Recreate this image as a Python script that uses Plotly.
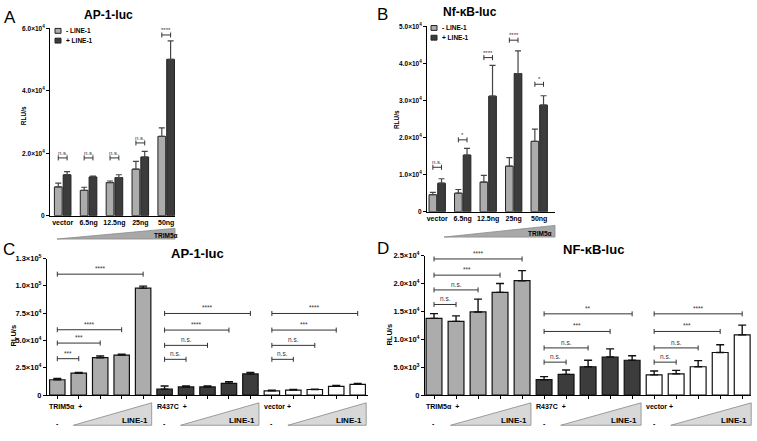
import plotly.graph_objects as go

W, H = 757, 441
FONT = "Liberation Sans"

# ---------------- data ----------------
ab_groups = ["vector", "6.5ng", "12.5ng", "25ng", "50ng"]

a_minus = [9200, 8100, 10600, 14900, 25400]
a_minus_err = [1200, 1000, 500, 2500, 2700]
a_plus = [13100, 12400, 12200, 18800, 50100]
a_plus_err = [1000, 300, 900, 1800, 5900]
a_sig = ["n.s.", "n.s.", "n.s.", "n.s.", "****"]
a_sig_y = [18500, 18500, 18500, 23300, 57900]

b_minus = [4600, 5000, 8000, 12300, 19000]
b_minus_err = [600, 1000, 1800, 2300, 3300]
b_plus = [7700, 15300, 31200, 37300, 28800]
b_plus_err = [1200, 1800, 8300, 6100, 2500]
b_sig = ["n.s.", "*", "****", "****", "*"]
b_sig_y = [12000, 19400, 41600, 46300, 34400]

cd_constructs = ["TRIM5α", "R437C", "vector"]

c_trim = [14000, 20000, 34200, 36600, 97900]
c_trim_err = [1200, 600, 1500, 900, 1800]
c_r437c = [5400, 7400, 7400, 10700, 19300]
c_r437c_err = [2900, 900, 900, 1500, 1500]
c_vector = [3900, 4500, 5100, 8000, 9800]
c_vector_err = [600, 600, 300, 900, 900]
c_sig_from = [0, 0, 0, 0, 5, 5, 5, 5, 10, 10, 10, 10]
c_sig_to = [4, 3, 2, 1, 9, 8, 7, 6, 14, 13, 12, 11]
c_sig = ["****", "****", "***", "***", "****", "****", "n.s.", "n.s.", "****", "***", "n.s.", "n.s."]
c_sig_y = [110700, 59800, 47600, 33300, 74700, 59500, 45500, 32700, 74700, 59500, 45500, 32700]

d_trim = [13750, 13200, 14900, 18400, 20500]
d_trim_err = [850, 1000, 2300, 1600, 1800]
d_r437c = [2750, 3700, 5070, 6820, 6240]
d_r437c_err = [550, 800, 1170, 1450, 810]
d_vector = [3620, 3790, 5070, 7630, 10780]
d_vector_err = [690, 640, 1110, 1400, 1750]
d_sig_from = [0, 0, 0, 0, 5, 5, 5, 5, 10, 10, 10, 10]
d_sig_to = [4, 3, 2, 1, 9, 8, 7, 6, 14, 13, 12, 11]
d_sig = ["****", "***", "n.s.", "n.s.", "**", "***", "n.s.", "n.s.", "****", "***", "n.s.", "n.s."]
d_sig_y = [24400, 21500, 18850, 16240, 14560, 11400, 8450, 5900, 14560, 11400, 8450, 5900]

# ---------------- styles ----------------
LIGHT = "#acacac"
DARK = "#3c3c3c"
WHITE = "#ffffff"
CD_COLORS = [LIGHT, DARK, WHITE]


def px(x):
    return x / W


def py(y):
    return 1 - y / H


def xdom(p0, p1):
    return [px(p0), px(p1)]


def ydom(top, bottom):
    return [py(bottom), py(top)]


fig = go.Figure()
shapes = []
annots = []


def txt(x, y, s, size, bold=True, xanchor="center", yanchor="middle", angle=0, color="black"):
    annots.append(dict(x=px(x), y=py(y), xref="paper", yref="paper", text=s,
                       showarrow=False, xanchor=xanchor, yanchor=yanchor, textangle=angle,
                       font=dict(family=FONT, size=size, color=color,
                                 weight="bold" if bold else "normal")))


def bracket(xa, ya, x0, x1, y, label, size=6.5, color="#333333"):
    shapes.append(dict(type="line", xref=xa, yref=ya, x0=x0, x1=x1, y0=y, y1=y,
                       line=dict(color=color, width=1)))
    for xx in (x0, x1):
        shapes.append(dict(type="line", xref=xa, yref=ya, x0=xx, x1=xx,
                           ysizemode="pixel", yanchor=y, y0=-2.5, y1=2.5,
                           line=dict(color=color, width=1)))
    annots.append(dict(x=(x0 + x1) / 2, y=y, xref=xa, yref=ya, text=label, showarrow=False,
                       yanchor="bottom", yshift=0,
                       font=dict(family=FONT, size=size, color="#333333")))


def err(arr, color, width, thick=1.2):
    return dict(type="data", array=arr, arrayminus=[0] * len(arr), symmetric=False,
                color=color, thickness=thick, width=width, visible=True)


# ---------------- panels A & B ----------------
OFF, BW = 0.17, 0.30
for key, mi, mie, pl, ple, sig, sigy in [
    ("", a_minus, a_minus_err, a_plus, a_plus_err, a_sig, a_sig_y),
    ("2", b_minus, b_minus_err, b_plus, b_plus_err, b_sig, b_sig_y),
]:
    idx = list(range(len(ab_groups)))
    fig.add_trace(go.Bar(x=[i - OFF for i in idx], y=mi, width=BW, xaxis="x" + key, yaxis="y" + key,
                         marker=dict(color=LIGHT, line=dict(color="#222222", width=1)),
                         error_y=err(mie, "#444444", 3), name="- LINE-1", showlegend=False))
    fig.add_trace(go.Bar(x=[i + OFF for i in idx], y=pl, width=BW, xaxis="x" + key, yaxis="y" + key,
                         marker=dict(color=DARK, line=dict(color="#222222", width=1)),
                         error_y=err(ple, "#444444", 3), name="+ LINE-1", showlegend=False))
    for i, (s, yy) in enumerate(zip(sig, sigy)):
        bracket("x" + key, "y" + key, i - OFF, i + OFF, yy, s, size=6)

# ---------------- panels C & D ----------------
BWC = 0.72
for key, series, sf, st, sl, sy in [
    ("3", [(c_trim, c_trim_err), (c_r437c, c_r437c_err), (c_vector, c_vector_err)],
     c_sig_from, c_sig_to, c_sig, c_sig_y),
    ("4", [(d_trim, d_trim_err), (d_r437c, d_r437c_err), (d_vector, d_vector_err)],
     d_sig_from, d_sig_to, d_sig, d_sig_y),
]:
    for g, ((vals, e), col) in enumerate(zip(series, CD_COLORS)):
        xs = [g * 5 + i for i in range(len(vals))]
        fig.add_trace(go.Bar(x=xs, y=vals, width=BWC, xaxis="x" + key, yaxis="y" + key,
                             marker=dict(color=col, line=dict(color="#111111", width=1.2)),
                             error_y=err(e, "#111111", 4, 1.4), name=cd_constructs[g],
                             showlegend=False))
    for a, b, s, yy in zip(sf, st, sl, sy):
        bracket("x" + key, "y" + key, a, b, yy, s, size=6.5)


def sci(v, e):
    return f"{v}×10<sup>{e}</sup>"


tickfont_ab = dict(family=FONT, size=6.5, color="black", weight="bold")
tickfont_cd = dict(family=FONT, size=7.5, color="black", weight="bold")

common_y = dict(showline=True, linecolor="black", linewidth=1, ticks="outside", ticklen=3,
                tickwidth=1, tickcolor="black", showgrid=False, zeroline=False)
common_x = dict(showline=True, linecolor="black", linewidth=1, showgrid=False, zeroline=False)

fig.update_layout(
    width=W, height=H, margin=dict(l=0, r=0, t=0, b=0),
    paper_bgcolor="white", plot_bgcolor="rgba(0,0,0,0)", barmode="overlay",
    showlegend=False,
    xaxis=dict(domain=xdom(50, 175), range=[-0.49, 4.34], anchor="y",
               tickvals=list(range(5)), ticktext=ab_groups, ticks="",
               tickfont=dict(family=FONT, size=7, color="black", weight="bold"), **common_x),
    yaxis=dict(domain=ydom(23, 215), range=[0, 60000], anchor="x",
               tickvals=[0, 20000, 40000, 60000],
               ticktext=["0", sci("2.0", 4), sci("4.0", 4), sci("6.0", 4)],
               tickfont=tickfont_ab, **common_y),
    xaxis2=dict(domain=xdom(427, 555), range=[-0.40, 4.62], anchor="y2",
                tickvals=list(range(5)), ticktext=ab_groups, ticks="",
                tickfont=dict(family=FONT, size=7, color="black", weight="bold"), **common_x),
    yaxis2=dict(domain=ydom(21, 211), range=[0, 50000], anchor="x2",
                tickvals=[0, 10000, 20000, 30000, 40000, 50000],
                ticktext=["0", sci("1.0", 4), sci("2.0", 4), sci("3.0", 4), sci("4.0", 4), sci("5.0", 4)],
                tickfont=tickfont_ab, **common_y),
    xaxis3=dict(domain=xdom(47, 368), range=[-0.48, 14.48], anchor="y3",
                tickvals=list(range(15)), showticklabels=False, ticks="outside", ticklen=3,
                tickcolor="black", **common_x),
    yaxis3=dict(domain=ydom(259, 399), range=[0, 125000], anchor="x3",
                tickvals=[0, 25000, 50000, 75000, 100000, 125000],
                ticktext=["0", sci("2.5", 4), sci("5.0", 4), sci("7.5", 4), sci("1.0", 5), sci("1.3", 5)],
                tickfont=tickfont_cd, **common_y),
    xaxis4=dict(domain=xdom(425, 751), range=[-0.41, 14.40], anchor="y4",
                tickvals=list(range(15)), showticklabels=False, ticks="outside", ticklen=3,
                tickcolor="black", **common_x),
    yaxis4=dict(domain=ydom(256, 399), range=[0, 25000], anchor="x4",
                tickvals=[0, 5000, 10000, 15000, 20000, 25000],
                ticktext=["0", sci("5.0", 3), sci("1.0", 4), sci("1.5", 4), sci("2.0", 4), sci("2.5", 4)],
                tickfont=tickfont_cd, **common_y),
)

# panel letters and titles
txt(10, 12, "A", 17, bold=False)
txt(382, 9, "B", 17, bold=False)
txt(9, 250, "C", 17, bold=False)
txt(383, 249, "D", 17, bold=False)
txt(108, 9, "AP-1-luc", 12)
txt(470, 6, "Nf-κB-luc", 12)
txt(197, 254, "AP-1-luc", 13)
txt(593, 250, "NF-κB-luc", 13)

# y titles
txt(23, 113, "RLU/s", 6.5, angle=-90)
txt(396, 117, "RLU/s", 6.5, angle=-90)
txt(14, 338, "RLU/s", 7.5, angle=-90)
txt(390, 337, "RLU/s", 7.5, angle=-90)

# legends A & B
for lx, ly in [(55, 23), (431, 20)]:
    for k, (col, lab) in enumerate([(LIGHT, "- LINE-1"), (DARK, "+ LINE-1")]):
        y0 = ly + k * 10
        shapes.append(dict(type="rect", xref="paper", yref="paper", x0=px(lx), x1=px(lx + 6),
                           y0=py(y0 + 5), y1=py(y0), fillcolor=col, line=dict(color="#222222", width=1)))
        txt(lx + 9, y0 + 2.5, lab, 6.5, xanchor="left")

# TRIM5α wedges A & B
for (x0, x1, yb, yt, tx, ty) in [(57, 175, 239, 228, 166, 235), (444, 555, 237, 225, 540, 233)]:
    shapes.append(dict(type="path", xref="paper", yref="paper",
                       path=f"M {px(x0)} {py(yb)} L {px(x1)} {py(yb)} L {px(x1)} {py(yt)} Z",
                       fillcolor="#a8a8a8", line=dict(color="#8a8a8a", width=0.8)))
    txt(tx, ty, "TRIM5α", 6.5)

# C & D lower labels and LINE-1 wedges
for (ax0, spacing) in [(57.3, 21.45), (434.0, 22.03)]:
    for g, name in enumerate(cd_constructs):
        first = ax0 + spacing * g * 5
        txt(first - 10, 411, name + "  +" if name != "vector" else name + " +", 7,
            xanchor="left")
        txt(first, 428, "-", 7)
        wx0 = first + spacing * 0.75
        wx1 = first + spacing * 4.4
        shapes.append(dict(type="path", xref="paper", yref="paper",
                           path=f"M {px(wx0)} {py(430)} L {px(wx1)} {py(430)} L {px(wx1)} {py(407)} Z",
                           fillcolor="#d8d8d8", line=dict(color="#888888", width=0.8)))
        txt(wx1 - 2, 425, "LINE-1", 8, xanchor="right")

fig.update_layout(shapes=shapes, annotations=annots)
fig.write_html("out.html", config={"displayModeBar": False},
               post_script="document.body.style.margin='0';")
